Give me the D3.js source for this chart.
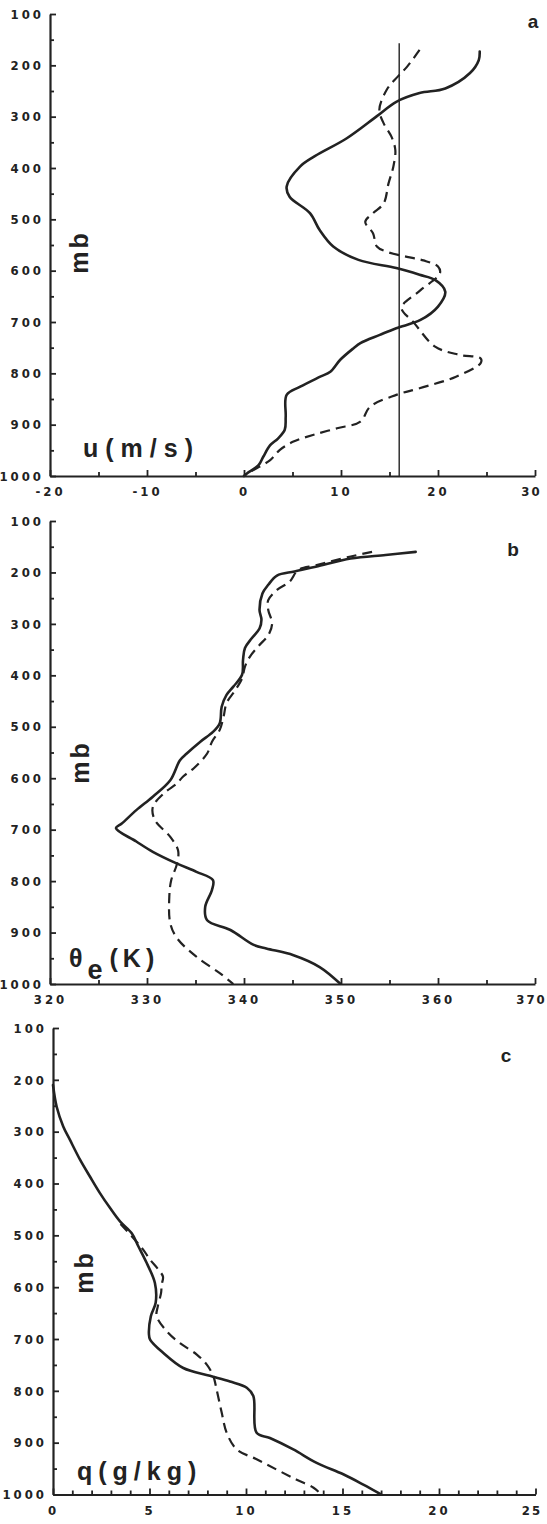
<!DOCTYPE html>
<html><head><meta charset="utf-8">
<script src="https://cdn.jsdelivr.net/npm/d3@7"></script>
<style>
body{margin:0;background:#fff;}
svg{display:block;background:#fff;}
.tick text{font-family:"Liberation Sans Narrow","DejaVu Sans Condensed",sans-serif;font-weight:bold;font-size:13px;letter-spacing:3px;fill:#222;}
.lbl{font-family:"Liberation Sans",Arial,sans-serif;font-weight:bold;fill:#222;}
</style></head><body>
<svg id="chart" width="547" height="1524"></svg>
<script>
// ---- tick labels ----
const pressureTicks = [100,200,300,400,500,600,700,800,900,1000];
const pressureMinor = [150,250,350,450,550,650,750,850,950];
const uTicks = [-20,-10,0,10,20,30];
const uMinor = [-15,-5,5,15,25];
const thetaTicks = [320,330,340,350,360,370];
const thetaMinor = [325,335,345,355,365];
const qTicks = [0,5,10,15,20,25];
const qMinor = [1,2,3,4,6,7,8,9,11,12,13,14,16,17,18,19,21,22,23,24];
const uReference = 16;
const uReferenceTop = 157;

// ---- panel a: u (m/s) vs pressure (mb) ----
const uSolid = [[24.3,173],[24.2,190],[23.3,215],[20.75,245],[18.1,254],[15.7,271],[13.7,299],[10.6,342],[7.3,377],[5.8,397],[4.4,436],[4.7,456],[6.8,488],[7.8,521],[9.2,553],[11.8,579],[15.7,595],[18.1,608],[19.7,618],[20.75,641],[20.0,670],[18.2,696],[15.7,712],[14.0,725],[12.0,741],[11.3,751],[9.9,774],[8.9,797],[7.8,807],[5.8,826],[4.4,842],[4.3,884],[4.2,910],[3.5,927],[2.7,940],[2.0,962],[1.5,979],[0.3,995],[0,1000]];
const uDashed = [[18.1,170],[16.8,203],[15.85,222],[14.7,248],[13.95,287],[14.4,313],[15.2,339],[15.6,365],[15.4,397],[14.9,430],[14.4,469],[13.3,488],[12.5,505],[13.3,527],[13.7,553],[14.7,563],[16.8,573],[18.5,580],[20.0,592],[20.2,605],[18.2,638],[16.25,670],[16.4,680],[17.4,699],[19.7,748],[22.2,764],[24.4,771],[24.4,780],[21.8,807],[18.1,829],[15.7,842],[13.0,865],[12.0,894],[9.6,907],[7.1,920],[5.1,933],[3.7,949],[2.7,969],[1.3,985],[0.3,995],[0,1000]];

// ---- panel b: theta_e (K) ----
const thetaSolid = [[357.7,160],[354.6,166],[351,173],[347.4,189],[345.2,198],[343.4,206],[342.5,224],[341.9,241],[341.6,273],[341.8,292],[341.6,309],[340.8,328],[340.1,347],[339.9,370],[339.8,399],[338.9,422],[338.2,438],[337.7,461],[337.5,493],[336.8,510],[335.5,529],[334.1,552],[333.4,565],[332.4,604],[330.6,636],[328.9,662],[327.4,688],[326.8,697],[328.9,723],[330.6,743],[333.1,766],[335.1,782],[336.8,798],[336.7,817],[336.0,850],[336.2,876],[338.6,895],[341,924],[342.3,931],[345.1,944],[347.8,967],[349.9,999]];
const thetaDashed = [[353.2,160],[351,169],[347.4,186],[345.6,195],[344.7,218],[343.4,234],[342.5,254],[342.5,273],[342.9,299],[342.5,322],[341.6,341],[340.6,364],[340.1,383],[339.8,406],[339.1,429],[338.2,454],[337.9,480],[337.5,506],[336.7,529],[336.2,552],[334.8,581],[333.7,597],[333.1,610],[331.7,630],[330.6,656],[330.8,681],[332.4,714],[333.2,740],[333.1,766],[332.5,798],[332.3,830],[332.4,882],[333.1,911],[335.1,947],[337.5,979],[338.9,1000]];

// ---- panel c: q (g/kg) ----
const qSolid = [[0,210],[0.19,252],[0.53,290],[0.88,316],[1.4,354],[1.92,387],[2.44,419],[2.95,447],[3.47,473],[4.08,496],[4.42,521],[4.85,553],[5.28,592],[5.32,630],[5.07,656],[4.97,690],[5.03,701],[5.72,727],[6.75,756],[8.13,771],[9.17,782],[10.04,794],[10.38,810],[10.55,881],[11.24,891],[12.45,913],[13.66,939],[15.04,961],[16.08,981],[17.0,1000]];
const qDashed = [[3.5,478],[4.25,509],[4.68,528],[5.03,547],[5.46,566],[5.7,580],[5.63,595],[5.6,611],[5.43,637],[5.37,656],[5.89,685],[6.58,708],[7.45,730],[7.96,749],[8.31,772],[8.48,798],[8.74,842],[9.0,881],[9.52,913],[10.55,932],[11.59,952],[12.6,971],[13.5,987],[13.9,1000]];

const INK = "#222";
const svg = d3.select("#chart");

function panel(cfg){
  const x = d3.scaleLinear().domain(cfg.xDomain).range([cfg.left, cfg.right]);
  const y = d3.scaleLinear().domain([100,1000]).range([cfg.top, cfg.bottom]);
  const g = svg.append("g");

  // y axis major
  g.append("g").attr("transform",`translate(${cfg.left},0)`)
    .call(d3.axisLeft(y).tickValues(pressureTicks).tickFormat(d=>String(d))
      .tickSizeInner(-6).tickSizeOuter(0).tickPadding(6));
  // y axis minor
  g.append("g").attr("transform",`translate(${cfg.left},0)`)
    .call(d3.axisLeft(y).tickValues(pressureMinor).tickFormat("")
      .tickSizeInner(-4).tickSizeOuter(0))
    .call(s=>s.select(".domain").remove());
  // x axis major
  const xa = g.append("g").attr("transform",`translate(0,${cfg.bottom})`)
    .call(d3.axisBottom(x).tickValues(cfg.xTicks).tickFormat(d=>String(d))
      .tickSizeInner(-6).tickSizeOuter(0).tickPadding(11));
  const last = cfg.xTicks[cfg.xTicks.length-1];
  xa.selectAll(".tick text").filter(d=>d===last)
    .style("letter-spacing","2px").attr("dx",-4);
  // x axis minor
  g.append("g").attr("transform",`translate(0,${cfg.bottom})`)
    .call(d3.axisBottom(x).tickValues(cfg.xMinor).tickFormat("")
      .tickSizeInner(-4).tickSizeOuter(0))
    .call(s=>s.select(".domain").remove());

  g.selectAll(".domain").attr("stroke",INK).attr("stroke-width",2.2);
  g.selectAll(".tick line").attr("stroke",INK).attr("stroke-width",1.8);

  if(cfg.refLine!==undefined){
    g.append("line")
      .attr("x1",x(cfg.refLine)).attr("x2",x(cfg.refLine))
      .attr("y1",y(cfg.refTop)).attr("y2",y(1000))
      .attr("stroke",INK).attr("stroke-width",1.4);
  }

  const line = d3.line().x(d=>x(d[0])).y(d=>y(d[1])).curve(d3.curveCatmullRom.alpha(0.5));
  g.append("path").datum(cfg.dashed).attr("d",line)
    .attr("fill","none").attr("stroke",INK).attr("stroke-width",2.2)
    .attr("stroke-dasharray","10,6").attr("stroke-linejoin","round");
  g.append("path").datum(cfg.solid).attr("d",line)
    .attr("fill","none").attr("stroke",INK).attr("stroke-width",2.6)
    .attr("stroke-linejoin","round").attr("stroke-linecap","round");

  // "mb" label
  g.append("text").attr("class","lbl")
    .attr("transform",`translate(${cfg.mbX},${cfg.mbY}) rotate(-90)`)
    .attr("text-anchor","middle").attr("font-size",25).attr("letter-spacing",3)
    .text("mb");

  // panel letter
  g.append("text").attr("class","lbl").attr("x",cfg.letterX).attr("y",cfg.letterY)
    .attr("text-anchor","middle").attr("font-size",19).text(cfg.letter);

  cfg.unit(g);
}

panel({
  xDomain:[-20,30], left:50, right:535, top:14, bottom:476,
  xTicks:uTicks, xMinor:uMinor, solid:uSolid, dashed:uDashed,
  refLine:uReference, refTop:uReferenceTop,
  mbX:88, mbY:252, letter:"a", letterX:533, letterY:28,
  unit:g=>g.append("text").attr("class","lbl").attr("x",83).attr("y",457)
    .attr("font-size",25).attr("letter-spacing",7).text("u(m/s)")
});

panel({
  xDomain:[320,370], left:50, right:535, top:521, bottom:984,
  xTicks:thetaTicks, xMinor:thetaMinor, solid:thetaSolid, dashed:thetaDashed,
  mbX:89, mbY:762, letter:"b", letterX:513, letterY:556,
  unit:g=>{
    const t = g.append("text").attr("class","lbl").attr("x",69).attr("y",967)
      .attr("font-size",25).attr("letter-spacing",5);
    t.append("tspan").text("θ");
    t.append("tspan").attr("dy",12).attr("font-size",27).text("e");
    t.append("tspan").attr("dy",-12).attr("dx",2).text("(K)");
  }
});

panel({
  xDomain:[0,25], left:53, right:535.5, top:1028, bottom:1494.5,
  xTicks:qTicks, xMinor:qMinor, solid:qSolid, dashed:qDashed,
  mbX:93, mbY:1272, letter:"c", letterX:506, letterY:1062,
  unit:g=>g.append("text").attr("class","lbl").attr("x",77).attr("y",1480)
    .attr("font-size",25).attr("letter-spacing",6).text("q(g/kg)")
});
</script>
</body></html>
